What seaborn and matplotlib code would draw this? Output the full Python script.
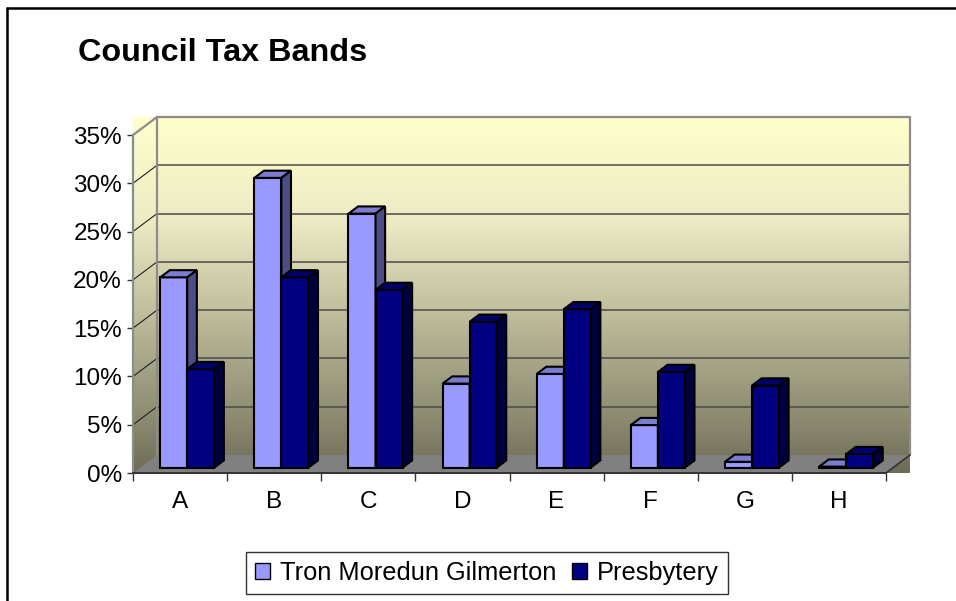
import matplotlib
matplotlib.use("Agg")
import matplotlib.pyplot as plt
import seaborn as sns
import numpy as np
import pandas as pd
from matplotlib.patches import Polygon, Patch
from matplotlib.lines import Line2D
from matplotlib.colors import LinearSegmentedColormap

# values (percent of dwellings per band)
bands = ['A', 'B', 'C', 'D', 'E', 'F', 'G', 'H']
tron = [19.7, 30.0, 26.3, 8.7, 9.7, 4.4, 0.6, 0.1]
presbytery = [10.2, 19.7, 18.4, 15.1, 16.4, 9.9, 8.5, 1.4]
series_names = ['Tron Moredun Gilmerton', 'Presbytery']
y_ticks = [0, 5, 10, 15, 20, 25, 30, 35]

LIGHT = '#9999FF'
DARK = '#000080'
FACE_SHADES = {LIGHT: ('#7B7BCF', '#4D4D85'), DARK: ('#000068', '#00003C')}

sns.set_style('white')
plt.rcParams['font.family'] = ['Liberation Sans', 'DejaVu Sans']
plt.rcParams['text.color'] = 'black'
plt.rcParams['xtick.labelcolor'] = 'black'
plt.rcParams['ytick.labelcolor'] = 'black'

W, H = 956, 601
fig = plt.figure(figsize=(W / 100, H / 100), dpi=100)

# front plane of the 3d box, in pixels
x0, x1, yb, yt = 133, 886, 473, 135
ax = fig.add_axes([x0 / W, 1 - yb / H, (x1 - x0) / W, (yb - yt) / H])

# depth of the box (pixels) -> data units
DX = 24 * 8 / (x1 - x0)
DY = 18 * 35 / (yb - yt)
D0, D1 = 0.3, 0.7   # front / back of the columns


def P(x, y, d):
    return (x + d * DX, y + d * DY)


df = pd.DataFrame({
    'band': bands * 2,
    'share': tron + presbytery,
    'series': [series_names[0]] * len(bands) + [series_names[1]] * len(bands),
})

sns.barplot(data=df, x='band', y='share', hue='series', palette=[LIGHT, DARK],
            width=0.574, saturation=1, edgecolor='black', linewidth=1.5,
            legend=False, ax=ax)
bars = list(ax.patches)

# fake 3d faces on the seaborn columns
for rect in bars:
    x, w, h = rect.get_x(), rect.get_width(), rect.get_height()
    col = matplotlib.colors.to_hex(rect.get_facecolor()).upper()
    j = 0 if col == LIGHT else 1
    i = int(round(x + w / 2 + (0.25 if j == 0 else -0.25)))
    z = 3 + 2 * i + j
    top_c, side_c = FACE_SHADES[LIGHT if j == 0 else DARK]
    rect.set_xy(P(x, 0, D0))
    rect.set_zorder(z)
    rect.set_clip_on(False)
    top = Polygon([P(x, h, D0), P(x + w, h, D0), P(x + w, h, D1), P(x, h, D1)],
                  closed=True, facecolor=top_c, edgecolor='black', lw=1.5,
                  zorder=z, clip_on=False)
    side = Polygon([P(x + w, 0, D0), P(x + w, 0, D1), P(x + w, h, D1), P(x + w, h, D0)],
                   closed=True, facecolor=side_c, edgecolor='black', lw=1.5,
                   zorder=z, clip_on=False)
    ax.add_patch(top)
    ax.add_patch(side)

# walls with gradient
wall_cmap = LinearSegmentedColormap.from_list('wall', [
    (0.0, '#6E6C56'), (0.14, '#8A886E'), (0.43, '#BCBA99'),
    (0.71, '#ECEBC4'), (1.0, '#FFFFCC')])
grad = np.linspace(0, 1, 256).reshape(-1, 1)
im = ax.imshow(grad, cmap=wall_cmap, origin='lower', aspect='auto',
               extent=[-0.5, 7.5 + DX, 0, 35 + DY], zorder=0, clip_on=False,
               interpolation='bilinear')
wall_shape = Polygon([P(-0.5, 0, 0), P(-0.5, 0, 1), P(7.5, 0, 1), P(7.5, 35, 1),
                      P(-0.5, 35, 1), P(-0.5, 35, 0)], closed=True,
                     transform=ax.transData)
im.set_clip_path(wall_shape)

floor = Polygon([P(-0.5, 0, 0), P(7.5, 0, 0), P(7.5, 0, 1), P(-0.5, 0, 1)],
                closed=True, facecolor='#808080', edgecolor='none',
                zorder=0.5, clip_on=False)
ax.add_patch(floor)

for v in y_ticks[1:-1]:
    a, b, c = P(-0.5, v, 0), P(-0.5, v, 1), P(7.5, v, 1)
    ax.plot([a[0], b[0]], [a[1], b[1]], color='#202020', lw=0.8, zorder=1, clip_on=False)
    ax.plot([b[0], c[0]], [b[1], c[1]], color='#4A4A4A', lw=1.1, zorder=1, clip_on=False)

# wall borders
edge = [P(-0.5, 0, 1), P(-0.5, 35, 1), P(7.5, 35, 1), P(7.5, 0, 1)]
ax.plot([p[0] for p in edge], [p[1] for p in edge], color='#8C8C8C', lw=1.6,
        zorder=1.2, clip_on=False)
a, b = P(-0.5, 35, 0), P(-0.5, 35, 1)
ax.plot([a[0], b[0]], [a[1], b[1]], color='#8C8C8C', lw=1.6, zorder=1.2, clip_on=False)
a, b = P(7.5, 0, 0), P(7.5, 0, 1)
ax.plot([a[0], b[0]], [a[1], b[1]], color='#333333', lw=1.2, zorder=1.2, clip_on=False)

ax.set_xlim(-0.5, 7.5)
ax.set_ylim(0, 35)
ax.patch.set_visible(False)
for s in ['top', 'right']:
    ax.spines[s].set_visible(False)
ax.spines['left'].set_color('#8C8C8C')
ax.spines['left'].set_linewidth(1.6)
ax.spines['bottom'].set_color('#333333')
ax.spines['bottom'].set_linewidth(1.4)
ax.spines['left'].set_zorder(1.3)

ax.set_yticks(y_ticks)
ax.set_yticklabels([f'{v}%' for v in y_ticks])
ax.set_xticks(np.arange(-0.5, len(bands), 1))
ax.set_xticklabels([])
ax.set_xticks(range(len(bands)), minor=True)
ax.set_xticklabels(bands, minor=True)
ax.tick_params(axis='y', direction='out', length=4, width=1, color='#333333',
               labelsize=17.5, labelcolor='black', pad=4, left=True)
ax.tick_params(axis='x', which='major', direction='out', length=6, width=1,
               color='#333333', bottom=True)
ax.tick_params(axis='x', which='minor', length=0, labelsize=17.5,
               labelcolor='black', pad=13)
ax.set_xlabel('')
ax.set_ylabel('')

fig.text(78 / W, 1 - 53 / H, 'Council Tax Bands', fontsize=23.3,
         fontweight='bold', ha='left', va='center', color='black')

handles = [Patch(facecolor=LIGHT, edgecolor='black', lw=1),
           Patch(facecolor=DARK, edgecolor='black', lw=1)]
leg = ax.legend(handles, series_names, loc='center', ncol=2,
                bbox_to_anchor=(487 / W, 1 - 573 / H), bbox_transform=fig.transFigure,
                frameon=True, fancybox=False, edgecolor='black', fontsize=18.3,
                handlelength=0.6, handleheight=0.6, handletextpad=0.4,
                columnspacing=0.6, borderpad=0.35, borderaxespad=0)
leg.get_frame().set_linewidth(1)
for t in leg.get_texts():
    t.set_color('black')

# outer chart frame
fig.add_artist(Line2D([7 / W, 7 / W], [0, 1 - 8 / H], color='black', lw=1.8,
                      transform=fig.transFigure))
fig.add_artist(Line2D([7 / W, 1], [1 - 8 / H, 1 - 8 / H], color='black', lw=1.8,
                      transform=fig.transFigure))

fig.savefig('out.png', dpi=100)
